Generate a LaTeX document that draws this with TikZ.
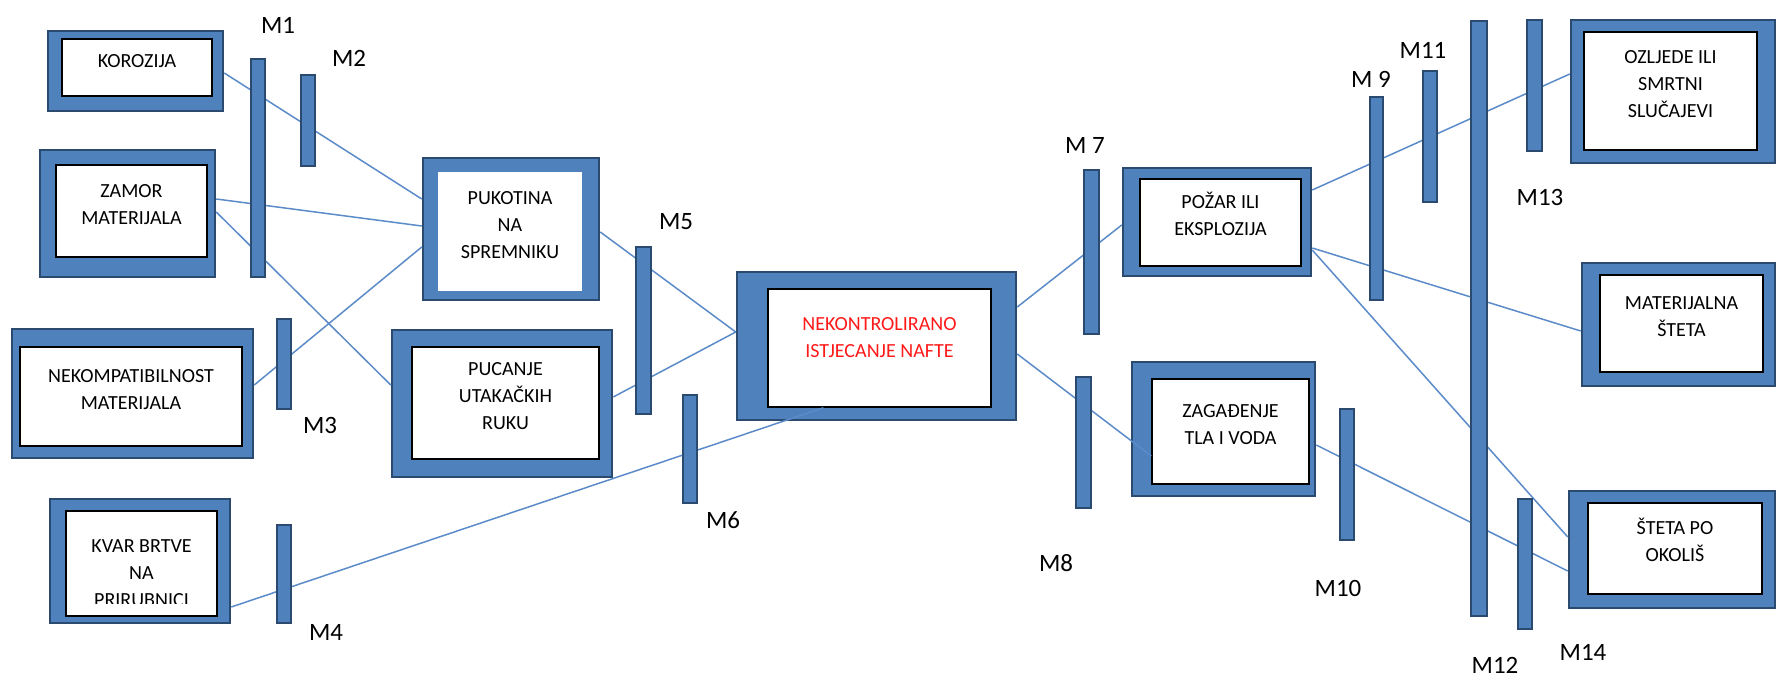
\documentclass[tikz,border=0pt]{standalone}
\usepackage{fontspec}
\setmainfont{Carlito}
\usetikzlibrary{fit,calc}
\definecolor{boxblue}{HTML}{4F81BD}
\definecolor{boxedge}{HTML}{2B4A6F}
\definecolor{linkblue}{HTML}{5B8BC8}
\definecolor{alarm}{HTML}{FF1A1A}
\newcommand{\boxfont}{\fontsize{11.4}{15.4}\selectfont}
\newcommand{\barfont}{\fontsize{14.2}{16}\selectfont}

\tikzset{
  hazard/.style={draw=boxedge,fill=boxblue,line width=0.5mm,inner sep=0pt},
  hazardtext/.style={draw=black,fill=white,line width=0.3mm,inner sep=0pt,
                     align=center,font=\boxfont},
  barrier/.style={draw=boxedge,fill=boxblue,line width=0.5mm},
  barname/.style={font=\barfont},
  link/.style={draw=linkblue,line width=0.3mm}
}

\begin{document}
\begin{tikzpicture}[x=0.2mm,y=-0.2mm]
  \useasboundingbox (0,0) rectangle (1776,684);

  % causes
  \node[hazard,fit={(48,31) (223,111)}] (kor) {};
  \node[hazardtext,fit={(62,39) (212,96)}] (korT) {KOROZIJA};
  \node[hazard,fit={(40,150) (215,277)}] (zam) {};
  \node[hazardtext,fit={(56,165) (207,257)}] (zamT) {ZAMOR\\MATERIJALA};
  \node[hazard,fit={(12,329) (253,458)}] (nek) {};
  \node[hazardtext,fit={(20,347) (242,446)}] (nekT) {NEKOMPATIBILNOST\\MATERIJALA};
  \node[hazard,fit={(50,499) (230,623)}] (kvr) {};
  \node[hazardtext,fit={(66,511) (217,616)}] (kvrT) {};
  \begin{scope}
    \clip (kvrT.north west) rectangle ($(kvrT.south east)+(0,-13)$);
    \node[font=\boxfont,align=center] (kvrL) at ($(kvrT.center)+(0,10)$)
      {KVAR BRTVE\\NA\\PRIRUBNICI};
  \end{scope}

  % intermediate events
  \node[hazard,fit={(423,158) (599,300)}] (puk) {};
  \node[hazardtext,draw=none,fit={(438,172) (582,291)}] (pukT) {PUKOTINA\\NA\\SPREMNIKU};
  \node[hazard,fit={(392,330) (612,477)}] (puc) {};
  \node[hazardtext,fit={(412,347) (599,459)}] (pucT) {PUCANJE\\UTAKAČKIH\\RUKU};

  % top event
  \node[hazard,fit={(737,272) (1016,420)}] (spill) {};
  \node[hazardtext,fit={(768,289) (991,407)}] (spillT) {};
  \node[font=\boxfont,text=alarm,align=center] (spillL) at ($(spillT.center)+(0,-10)$)
    {NEKONTROLIRANO\\ISTJECANJE NAFTE};

  % consequences
  \node[hazard,fit={(1123,168) (1311,276)}] (poz) {};
  \node[hazardtext,fit={(1140,179) (1301,266)}] (pozT) {POŽAR ILI\\EKSPLOZIJA};
  \node[hazard,fit={(1132,362) (1315,496)}] (zag) {};
  \node[hazardtext,fit={(1152,379) (1309,484)}] (zagT) {ZAGAĐENJE\\TLA I VODA};
  \node[hazard,fit={(1571,20) (1775,163)}] (ozl) {};
  \node[hazardtext,fit={(1584,32) (1757,150)}] (ozlT) {OZLJEDE ILI\\SMRTNI\\SLUČAJEVI};
  \node[hazard,fit={(1582,263) (1775,386)}] (mat) {};
  \node[hazardtext,fit={(1600,275) (1763,372)}] (matT) {MATERIJALNA\\ŠTETA};
  \node[hazard,fit={(1569,491) (1775,608)}] (stt) {};
  \node[hazardtext,fit={(1588,503) (1762,594)}] (sttT) {ŠTETA PO\\OKOLIŠ};

  % links, under the barriers
  \draw[link] (kor.east |- 0,73) -- (puk.west |- 0,199);
  \draw[link] (zam.east |- 0,199) -- (puk.west |- 0,226);
  \draw[link] (zam.east |- 0,212) -- (puc.west |- 0,385);
  \draw[link] (nek.east |- 0,385) -- (puk.west |- 0,247);
  \draw[link] (kvr.east |- 0,607) -- ($(spillT.south west)!0.25!(spillT.south east)$);
  \draw[link] (puk.east |- 0,232) -- (spill.west |- 0,332);
  \draw[link] (puc.east |- 0,397) -- (spill.west |- 0,332);
  \draw[link] (spill.east |- 0,307) -- (poz.west |- 0,225);
  \draw[link] (spill.east |- 0,354) -- (zagT.west |- 0,456);
  \draw[link] (poz.east |- 0,190) -- (ozl.west |- 0,74);
  \draw[link] (poz.east |- 0,248) -- (mat.west |- 0,331);
  \draw[link] (poz.east |- 0,250) -- (stt.west |- 0,537);
  \draw[link] (zag.east |- 0,445) -- (stt.west |- 0,571);

  % barriers M1..M14
  \draw[barrier] (251,59) rectangle (265,277);
  \draw[barrier] (301,75) rectangle (315,166);
  \draw[barrier] (277,319) rectangle (291,409);
  \draw[barrier] (277,525) rectangle (291,623);
  \draw[barrier] (636,247) rectangle (651,414);
  \draw[barrier] (683,395) rectangle (697,503);
  \draw[barrier] (1084,170) rectangle (1099,334);
  \draw[barrier] (1076,377) rectangle (1091,508);
  \draw[barrier] (1370,97) rectangle (1383,300);
  \draw[barrier] (1340,409) rectangle (1354,540);
  \draw[barrier] (1423,71) rectangle (1437,202);
  \draw[barrier] (1471,21) rectangle (1487,616);
  \draw[barrier] (1527,20) rectangle (1542,151);
  \draw[barrier] (1518,499) rectangle (1532,629);

  \node[barname] (m1) at (278,25) {M1};
  \node[barname] (m2) at (349,58) {M2};
  \node[barname] (m3) at (320,425) {M3};
  \node[barname] (m4) at (326,632) {M4};
  \node[barname] (m5) at (676,222) {M5};
  \node[barname] (m6) at (723,520) {M6};
  \node[barname] (m7) at (1085,145) {M 7};
  \node[barname] (m8) at (1056,563) {M8};
  \node[barname] (m9) at (1371,79) {M 9};
  \node[barname] (m10) at (1338,588) {M10};
  \node[barname] (m11) at (1423,50) {M11};
  \node[barname] (m12) at (1495,665) {M12};
  \node[barname] (m13) at (1540,197) {M13};
  \node[barname] (m14) at (1583,652) {M14};
\end{tikzpicture}
\end{document}
